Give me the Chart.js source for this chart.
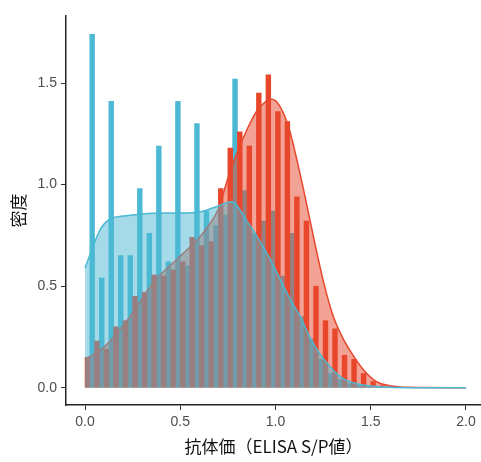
<!DOCTYPE html>
<html>
<head>
<meta charset="utf-8">
<script src="https://cdn.jsdelivr.net/npm/chart.js@4.4.1/dist/chart.umd.min.js"></script>
<style>
  html, body { margin: 0; padding: 0; background: #fff; }
  canvas { display: block; }
</style>
</head>
<body>
<canvas id="myChart" width="481" height="462"></canvas>
<script>
// histogram bins (centre of each 0.05 wide bin)
const binCenters = [0.025, 0.075, 0.125, 0.175, 0.225, 0.275, 0.325, 0.375, 0.425, 0.475,
  0.525, 0.575, 0.625, 0.675, 0.725, 0.775, 0.825, 0.875, 0.925, 0.975,
  1.025, 1.075, 1.125, 1.175, 1.225, 1.275, 1.325, 1.375, 1.425, 1.475,
  1.525, 1.575, 1.625];
const redHist = [0.15, 0.23, 0.19, 0.30, 0.33, 0.45, 0.47, 0.555, 0.55, 0.58,
  0.62, 0.74, 0.70, 0.72, 0.98, 1.18, 1.26, 1.19, 1.45, 1.54,
  1.36, 1.31, 0.94, 0.82, 0.50, 0.33, 0.29, 0.16, 0.14, 0.07,
  0.03, 0.01, 0.005];
const blueHist = [1.74, 0.54, 1.41, 0.65, 0.65, 0.98, 0.76, 1.19, 0.62, 1.41,
  0.60, 1.30, 0.87, 0.80, 0.85, 1.52, 0.97, 0.76, 0.82, 0.87,
  0.55, 0.76, 0.35, 0.24, 0.14, 0.07, 0.04, 0.02, 0.01, 0.005,
  0, 0, 0];

// density curves
const redDensX = [0, 0.1, 0.22, 0.36, 0.48, 0.6, 0.65, 0.7, 0.75, 0.8, 0.85, 0.9, 0.95, 0.98,
  1.02, 1.07, 1.12, 1.16, 1.2, 1.25, 1.3, 1.35, 1.4, 1.46, 1.53, 1.6, 1.7, 2.0];
const redDensY = [0.14, 0.2, 0.33, 0.52, 0.63, 0.74, 0.8, 0.88, 1.03, 1.16, 1.27, 1.36, 1.41, 1.42,
  1.39, 1.28, 1.09, 0.92, 0.74, 0.53, 0.36, 0.25, 0.17, 0.09, 0.03, 0.01, 0.002, 0];
const blueDensX = [0, 0.04, 0.08, 0.13, 0.2, 0.3, 0.4, 0.5, 0.6, 0.7, 0.77, 0.85, 0.95, 1.0,
  1.08, 1.13, 1.18, 1.23, 1.29, 1.34, 1.39, 1.45, 1.55, 1.7, 2.0];
const blueDensY = [0.59, 0.69, 0.78, 0.83, 0.845, 0.855, 0.86, 0.86, 0.865, 0.895, 0.915, 0.82, 0.67, 0.58,
  0.43, 0.35, 0.25, 0.17, 0.10, 0.055, 0.03, 0.015, 0.005, 0, 0];

const xTicks = [0, 0.5, 1.0, 1.5, 2.0];
const yTicks = [0, 0.5, 1.0, 1.5];

const RED = '#E8472C';
const BLUE = '#4BB8D4';

const pts = (xs, ys) => xs.map((x, i) => ({ x: x, y: ys[i] }));

const ctx = document.getElementById('myChart');
new Chart(ctx, {
  type: 'bar',
  data: {
    datasets: [
      {
        type: 'bar', data: pts(binCenters, redHist), backgroundColor: RED,
        borderWidth: 0, categoryPercentage: 1, barPercentage: 1, order: 3
      },
      {
        type: 'bar', data: pts(binCenters, blueHist), backgroundColor: BLUE,
        borderWidth: 0, categoryPercentage: 1, barPercentage: 1, order: 4
      },
      {
        type: 'line', data: pts(redDensX, redDensY), borderColor: RED, borderWidth: 1.5,
        backgroundColor: 'rgba(232,71,44,0.5)', fill: 'origin', pointRadius: 0,
        cubicInterpolationMode: 'monotone', order: 2
      },
      {
        type: 'line', data: pts(blueDensX, blueDensY), borderColor: BLUE, borderWidth: 1.5,
        backgroundColor: 'rgba(75,184,212,0.5)', fill: 'origin', pointRadius: 0,
        cubicInterpolationMode: 'monotone', order: 1
      }
    ]
  },
  options: {
    responsive: false,
    animation: false,
    devicePixelRatio: 1,
    layout: { padding: { top: 16, right: 0, left: 0, bottom: 0 } },
    plugins: { legend: { display: false }, tooltip: { enabled: false } },
    scales: {
      x: {
        type: 'linear', min: -0.1, max: 2.079, offset: false,
        afterBuildTicks: s => { s.ticks = xTicks.map(v => ({ value: v })); },
        afterFit: s => { s.height = 57; },
        ticks: { callback: v => v.toFixed(1), color: '#4d4d4d', padding: 4,
          font: { family: 'Liberation Sans', size: 14 }, maxRotation: 0 },
        grid: { offset: false, drawOnChartArea: false, drawTicks: true, tickLength: 5, color: '#333' },
        border: { display: true, color: '#222', width: 1.5 },
        title: { display: true, text: '抗体価（ELISA S/P値）', color: '#111',
          font: { family: 'Noto Sans CJK JP', size: 17 }, padding: { top: 0, bottom: 5 } }
      },
      y: {
        type: 'linear', min: -0.085, max: 1.83,
        afterBuildTicks: s => { s.ticks = yTicks.map(v => ({ value: v })); },
        afterFit: s => { s.width = 66; },
        ticks: { callback: v => v.toFixed(1), color: '#4d4d4d', padding: 4,
          font: { family: 'Liberation Sans', size: 14 } },
        grid: { drawOnChartArea: false, drawTicks: true, tickLength: 5, color: '#333' },
        border: { display: true, color: '#222', width: 1.5 },
        title: { display: true, text: '密度', color: '#111',
          font: { family: 'Noto Sans CJK JP', size: 17 }, padding: { top: 8, bottom: 0 } }
      }
    }
  }
});
</script>
</body>
</html>
